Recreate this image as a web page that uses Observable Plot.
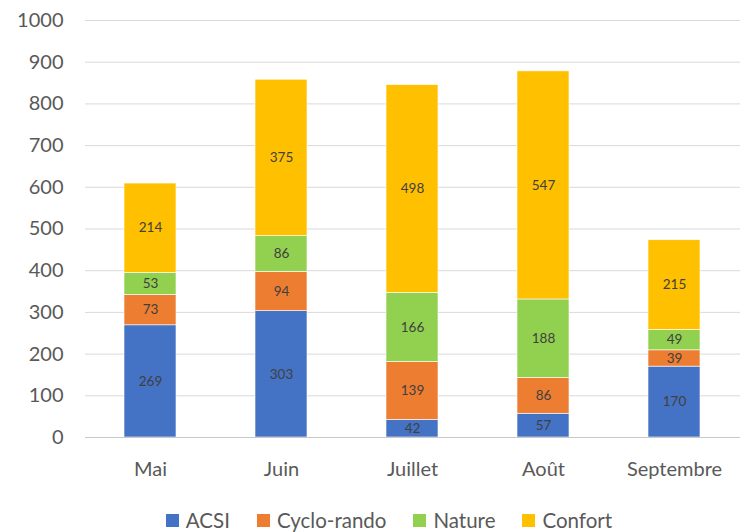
<!DOCTYPE html>
<html>
<head>
<meta charset="utf-8">
<script src="https://cdn.jsdelivr.net/npm/d3@7"></script>
<script src="https://cdn.jsdelivr.net/npm/@observablehq/plot@0.6"></script>
<style>
  body { margin: 0; background: #fff; font-family: Lato, "Open Sans", sans-serif; }
  #legend { display: flex; justify-content: center; align-items: center; gap: 27px;
    font-size: 20.5px; color: #595959; height: 30px; margin-top: 15px; padding-left: 26px; }
  #legend span.sw { display: inline-block; width: 13px; height: 13px; margin-right: 7px; }
  #legend .item { display: flex; align-items: center; }
</style>
</head>
<body>
<div id="chart"></div>
<div id="legend"></div>
<script>
const months = ["Mai", "Juin", "Juillet", "Août", "Septembre"];
const series = ["ACSI", "Cyclo-rando", "Nature", "Confort"];
const colors = ["#4472C4", "#ED7D31", "#92D050", "#FFC000"];
const acsi = [269, 303, 42, 57, 170];
const cyclo = [73, 94, 139, 86, 39];
const nature = [53, 86, 166, 188, 49];
const confort = [214, 375, 498, 547, 215];
const yTicks = [0, 100, 200, 300, 400, 500, 600, 700, 800, 900, 1000];

const valuesBySeries = [acsi, cyclo, nature, confort];
const data = [];
series.forEach((s, si) => {
  months.forEach((m, mi) => {
    data.push({ month: m, series: s, value: valuesBySeries[si][mi] });
  });
});

const chart = Plot.plot({
  width: 752,
  height: 490,
  marginLeft: 85,
  marginRight: 12,
  marginTop: 20,
  marginBottom: 53,
  style: { fontFamily: "Lato, 'Open Sans', sans-serif", fontSize: "20px", color: "#595959", background: "#fff" },
  x: { domain: months, paddingInner: 0.6, paddingOuter: 0.3, label: null },
  y: { domain: [0, 1000], label: null },
  color: { domain: series, range: colors },
  marks: [
    Plot.gridY(yTicks, { stroke: "#d9d9d9", strokeOpacity: 1 }),
    Plot.barY(data, { x: "month", y: "value", z: "series", fill: "series", stroke: "white", strokeWidth: 0.6 }),
    Plot.text(data, Plot.stackY({ x: "month", y: "value", z: "series", text: d => String(d.value), fill: "#404040", fontSize: 13.5 })),
    Plot.ruleY([0], { stroke: "#c8c8c8", strokeWidth: 1.2 }),
    Plot.axisY({ ticks: yTicks, tickFormat: d3.format("d"), tickSize: 0, tickPadding: 22, label: null, fontSize: 20, fill: "#595959" }),
    Plot.axisX({ tickSize: 0, tickPadding: 24, label: null, fontSize: 20, fill: "#595959" })
  ]
});
document.getElementById("chart").appendChild(chart);

const legend = document.getElementById("legend");
series.forEach((s, i) => {
  const item = document.createElement("div");
  item.className = "item";
  const sw = document.createElement("span");
  sw.className = "sw";
  sw.style.background = colors[i];
  item.appendChild(sw);
  item.appendChild(document.createTextNode(s));
  legend.appendChild(item);
});
</script>
</body>
</html>
